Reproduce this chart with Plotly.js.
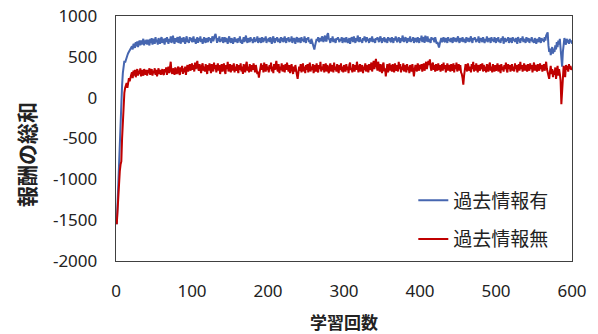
<!DOCTYPE html>
<html>
<head>
<meta charset="utf-8">
<script src="https://cdn.plot.ly/plotly-3.0.1.min.js"></script>
<style>html,body{margin:0;padding:0;background:#fff;}#chart{width:598px;height:334px;}</style>
</head>
<body>
<div id="chart"></div>
<script>
// Series names and axis texts
const seriesNames = ["過去情報有", "過去情報無"];
const xTitle = "学習回数";
const yTitle = "報酬の総和";
const xTicks = [0, 100, 200, 300, 400, 500, 600];
const yTicks = [-2000, -1500, -1000, -500, 0, 500, 1000];

// 過去情報有 (blue), episodes 1..600
const withHistory = [
-1550,-1280,-1000,-720,-480,-250,-40,150,300,400,450,430,470,490,520,545,565,590,600,615,
630,590,660,640,610,680,630,690,620,670,700,640,700,650,690,720,640,700,660,710,
650,710,680,640,720,670,730,650,700,720,660,740,680,710,650,730,690,660,720,740,
670,720,690,650,730,680,740,700,660,720,680,750,670,710,760,690,660,730,680,720,
740,670,710,750,660,700,730,680,740,690,660,720,750,680,710,670,740,700,730,680,
710,750,680,720,660,700,740,670,730,690,750,680,720,660,710,740,690,670,730,700,
680,740,700,730,670,720,750,690,740,760,780,700,670,730,690,750,680,720,690,740,
670,710,740,680,730,700,660,720,750,690,670,730,710,660,700,740,680,720,700,670,
730,690,750,670,710,660,700,740,680,720,760,700,670,730,710,680,740,700,720,670,
710,740,680,720,690,750,670,710,730,690,670,740,710,680,730,700,750,670,720,690,
730,680,740,700,660,720,750,690,670,730,700,740,680,720,710,670,740,690,730,680,
710,750,690,670,730,700,740,680,720,690,750,670,710,730,700,660,720,740,690,680,
730,710,670,740,700,720,680,750,700,670,730,710,740,680,700,660,720,680,650,630,
590,640,690,720,700,740,680,710,730,690,750,720,680,740,760,700,690,770,790,720,
710,670,730,690,750,680,720,700,670,730,710,740,690,680,720,700,740,670,710,730,
690,680,740,710,670,700,730,660,700,740,720,680,750,710,670,730,690,760,720,680,
740,690,710,670,730,700,750,710,680,740,700,720,670,730,710,690,750,680,720,700,
670,730,710,740,690,680,720,750,700,670,730,690,740,680,710,720,670,740,700,730,
690,680,740,710,670,730,700,750,720,680,700,740,710,670,730,690,760,710,680,720,
740,700,670,730,710,690,750,680,720,700,740,670,710,730,690,680,740,710,670,730,
700,760,680,720,740,670,760,710,690,750,680,720,700,670,740,710,730,690,680,740,
700,660,680,650,615,660,700,730,680,710,740,690,680,730,710,670,740,700,720,680,
730,700,670,740,710,690,730,680,720,750,700,670,730,710,690,740,680,720,700,670,
740,710,690,730,680,720,750,700,670,730,710,740,700,680,720,690,750,670,710,730,
700,680,740,710,670,720,690,750,680,710,730,700,670,740,700,720,680,740,710,670,
730,690,740,680,710,670,730,700,750,660,700,730,680,720,700,740,670,710,730,690,
670,740,700,720,680,730,700,660,740,710,690,670,730,700,750,680,720,700,670,740,
710,690,730,670,720,700,740,680,710,670,730,700,660,720,700,680,740,710,670,730,
700,720,680,740,700,760,780,800,640,560,600,520,580,620,540,600,560,640,590,680,
620,700,650,720,600,480,380,560,700,730,680,650,720,690,700,660,720,680,700,660
];

// 過去情報無 (red), episodes 1..600
const withoutHistory = [
-1550,-1350,-1150,-1000,-900,-820,-780,-500,-250,-20,60,120,150,180,120,200,240,200,260,280,
310,240,330,270,340,250,320,350,270,330,290,360,260,340,300,270,350,310,280,340,
270,340,300,360,280,330,350,270,330,300,360,280,340,260,320,360,290,340,280,330,
350,290,280,350,310,370,280,340,380,300,350,440,320,290,360,310,280,370,330,290,
350,380,300,280,370,320,390,290,360,310,380,280,350,400,320,370,410,330,380,420,
340,400,320,430,350,410,450,360,330,410,350,300,390,420,330,380,320,410,350,290,
400,330,420,350,300,410,370,320,430,350,400,310,380,420,330,400,290,360,410,320,
380,420,330,290,400,350,440,320,380,410,310,360,400,330,420,310,380,330,410,350,
300,400,340,420,320,380,290,410,350,310,400,440,330,380,310,410,350,320,400,340,
420,350,310,400,330,290,320,245,310,380,420,340,400,310,430,350,320,410,340,380,
310,400,350,430,320,380,300,410,340,400,450,350,320,410,300,380,340,420,320,400,
350,310,410,340,430,370,320,400,300,350,410,340,290,380,320,400,290,280,230,320,
380,330,410,310,360,420,320,380,300,400,340,410,310,360,430,320,380,340,410,300,
360,400,320,420,340,310,400,350,440,320,380,340,410,310,360,420,320,400,340,300,
380,420,320,360,400,310,430,340,380,320,410,350,300,400,340,420,320,380,310,400,
350,320,410,340,380,300,400,430,340,360,310,410,370,320,400,340,440,350,310,380,
410,320,360,400,300,380,340,420,320,400,350,310,410,340,380,430,320,400,450,350,
420,476,390,330,440,370,320,410,350,300,400,430,320,360,260,340,410,310,380,420,
330,400,320,410,350,310,420,370,330,400,320,440,350,410,310,380,340,420,320,400,
350,310,410,340,380,300,400,350,320,410,290,260,340,400,350,320,420,370,330,400,
350,410,320,380,420,330,400,440,350,410,450,400,470,370,330,410,430,340,400,320,
410,360,330,420,340,400,320,380,410,330,430,350,400,310,380,420,330,400,350,320,
410,360,330,420,310,400,350,430,320,380,410,330,400,310,290,240,160,270,340,410,
380,320,420,390,330,380,310,410,350,440,320,400,330,420,350,310,400,370,330,410,
350,420,320,400,330,380,310,410,350,320,400,430,330,380,310,410,350,320,400,330,
380,420,320,360,400,300,410,340,380,320,400,350,430,340,310,410,350,400,320,380,
410,330,380,320,420,350,400,310,380,410,330,440,350,400,320,370,420,330,400,350,
320,410,370,330,420,350,400,310,380,430,330,400,350,320,410,360,330,420,350,400,
320,380,410,330,400,440,350,310,270,230,320,390,290,350,250,330,280,370,230,320,
390,270,350,290,210,-80,100,300,390,330,250,400,340,390,320,410,350,390,340,370
];

const episodes1 = withHistory.map((_, i) => i + 1);
const episodes2 = withoutHistory.map((_, i) => i + 1);

const fontFamily = "'Noto Sans', 'Noto Sans CJK JP', sans-serif";

const traces = [
  {x: episodes1, y: withHistory, name: seriesNames[0], type: "scatter", mode: "lines",
   line: {color: "#4666B0", width: 2}, legendgroup: "a"},
  {x: episodes2, y: withoutHistory, name: seriesNames[1], type: "scatter", mode: "lines",
   line: {color: "#C00000", width: 2}, legendgroup: "b"}
];

const axisCommon = {
  showline: true, mirror: true, linecolor: "#404040", linewidth: 1.3,
  showgrid: false, zeroline: false, ticks: "", fixedrange: true,
  tickfont: {family: fontFamily, size: 17, color: "#222"}
};

const layout = {
  width: 598, height: 334,
  margin: {l: 116, r: 26, t: 16, b: 73},
  paper_bgcolor: "#fff", plot_bgcolor: "#fff",
  font: {family: fontFamily, color: "#222"},
  xaxis: Object.assign({}, axisCommon, {range: [0, 600], tickvals: xTicks, ticktext: xTicks.map(String), ticklabelstandoff: 14}),
  yaxis: Object.assign({}, axisCommon, {range: [-2000, 1000], tickvals: yTicks, ticktext: yTicks.map(String), ticklabelstandoff: 14}),
  showlegend: true,
  legend: {
    x: 0.652, y: 0.325, xanchor: "left", yanchor: "top",
    bgcolor: "rgba(0,0,0,0)", borderwidth: 0,
    font: {family: fontFamily, size: 19, color: "#222"},
    traceorder: "grouped", tracegroupgap: 11, itemwidth: 30
  },
  annotations: [
    {text: yTitle, xref: "paper", yref: "paper", x: -0.195, y: 0.433, xanchor: "center", yanchor: "middle",
     textangle: -90, showarrow: false, font: {family: fontFamily, size: 21, weight: "bold", color: "#222"}},
    {text: xTitle, xref: "paper", yref: "paper", x: 0.5, y: -0.249, xanchor: "center", yanchor: "middle",
     showarrow: false, font: {family: fontFamily, size: 17, weight: "bold", color: "#222"}}
  ]
};

Plotly.newPlot("chart", traces, layout, {displayModeBar: false, staticPlot: true});
</script>
</body>
</html>
